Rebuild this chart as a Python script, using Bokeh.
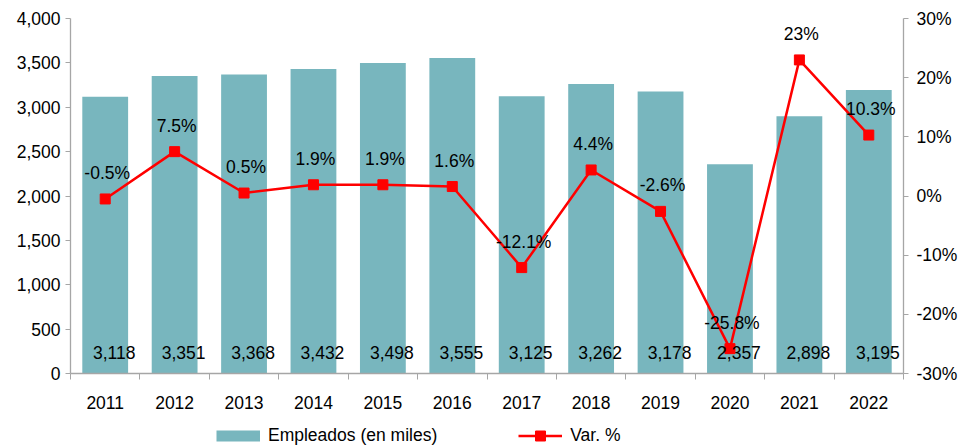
from bokeh.plotting import figure
from bokeh.layouts import column
from bokeh.models import (Range1d, LinearAxis, FixedTicker, NumeralTickFormatter,
                          ColumnDataSource, Legend, LegendItem, CustomJSTickFormatter)
from bokeh.core.properties import value
from bokeh.embed import file_html
from bokeh.resources import INLINE

years = ["2011", "2012", "2013", "2014", "2015", "2016",
         "2017", "2018", "2019", "2020", "2021", "2022"]
empleados = [3118, 3351, 3368, 3432, 3498, 3555, 3125, 3262, 3178, 2357, 2898, 3195]
var_pct = [-0.5, 7.5, 0.5, 1.9, 1.9, 1.6, -12.1, 4.4, -2.6, -25.8, 23, 10.3]
left_ticks = [0, 500, 1000, 1500, 2000, 2500, 3000, 3500, 4000]
right_ticks = [-30, -20, -10, 0, 10, 20, 30]
series_names = ["Empleados (en miles)", "Var. %"]

FONT = "Liberation Sans"
FS = "17.5px"
BAR = "#78B6BE"
RED = "#FF0000"
AX = "#A6A6A6"

n = len(years)
xs = [i + 0.5 for i in range(n)]
src = ColumnDataSource(dict(
    x=xs, emp=empleados, pct=var_pct,
    emp_lab=[f"{v:,}" for v in empleados],
    pct_lab=[f"{v:g}%" for v in var_pct],
))

p = figure(width=960, height=420, x_range=Range1d(0, n), y_range=Range1d(0, 4000),
           output_backend="svg", toolbar_location=None,
           min_border_left=70, min_border_right=55, min_border_top=18, min_border_bottom=47)
p.extra_y_ranges = {"pct": Range1d(-30, 30)}
p.grid.visible = False
p.outline_line_color = None

p.vbar(x="x", top="emp", width=0.66, source=src, fill_color=BAR, line_color=None)
p.line(x="x", y="pct", source=src, y_range_name="pct", line_color=RED, line_width=2.5)
p.scatter(x="x", y="pct", source=src, y_range_name="pct", marker="square", size=10,
          fill_color=RED, line_color=RED)

p.text(x="x", y=0, text="emp_lab", source=src, x_offset=9, y_offset=-21,
       text_align="center", text_baseline="middle", text_font=value(FONT),
       text_font_size=FS, text_color="black")
p.text(x="x", y="pct", text="pct_lab", source=src, y_range_name="pct", x_offset=2, y_offset=-26,
       text_align="center", text_baseline="middle", text_font=value(FONT),
       text_font_size=FS, text_color="black")

# x axis: ticks at category boundaries, labels at centres
xa = p.xaxis[0]
xa.ticker = FixedTicker(ticks=xs, minor_ticks=list(range(n + 1)))
xa.formatter = CustomJSTickFormatter(args=dict(years=years),
                                     code="return years[Math.floor(tick)] || '';")
xa.major_tick_line_color = None
xa.major_tick_out = 0
xa.major_tick_in = 0
xa.minor_tick_out = 6
xa.minor_tick_in = 0
xa.minor_tick_line_color = AX
xa.axis_line_color = AX
xa.axis_line_width = 1.3
xa.major_label_standoff = 16
xa.major_label_text_font = FONT
xa.major_label_text_font_size = FS
xa.major_label_text_color = "black"

ya = p.yaxis[0]
ya.ticker = FixedTicker(ticks=left_ticks)
ya.formatter = NumeralTickFormatter(format="0,0")
ya.major_tick_out = 5
ya.major_tick_in = 0
ya.minor_tick_line_color = None
ya.axis_line_color = AX
ya.axis_line_width = 1.3
ya.major_tick_line_color = AX
ya.major_label_standoff = 5
ya.major_label_text_font = FONT
ya.major_label_text_font_size = FS
ya.major_label_text_color = "black"

ra = LinearAxis(y_range_name="pct", ticker=FixedTicker(ticks=right_ticks),
                formatter=CustomJSTickFormatter(code="return tick + '%';"))
ra.major_tick_out = 5
ra.major_tick_in = 0
ra.minor_tick_line_color = None
ra.axis_line_color = AX
ra.axis_line_width = 1.3
ra.major_tick_line_color = AX
ra.major_label_standoff = 8
ra.major_label_text_font = FONT
ra.major_label_text_font_size = FS
ra.major_label_text_color = "black"
p.add_layout(ra, "right")

# legend strip below the chart (dummy renderers sit outside the visible range)
lg = figure(width=960, height=28, x_range=Range1d(0, 1), y_range=Range1d(0, 1),
            output_backend="svg", toolbar_location=None, x_axis_type=None, y_axis_type=None,
            min_border=0, min_border_left=0, min_border_right=0, min_border_top=0,
            min_border_bottom=0)
lg.grid.visible = False
lg.outline_line_color = None
off = dict(x=[-5, -6], y=[-5, -6])
r_bar = lg.line(x=off["x"], y=off["y"], line_color=BAR, line_width=11, line_cap="butt")
r_ln = lg.line(x=off["x"], y=off["y"], line_color=RED, line_width=2.5)
r_sc = lg.scatter(x=off["x"], y=off["y"], marker="square", fill_color=RED, line_color=RED)
legend = Legend(items=[LegendItem(label=series_names[0], renderers=[r_bar]),
                       LegendItem(label=series_names[1], renderers=[r_ln, r_sc])],
                orientation="horizontal", location=(146, 0),
                border_line_color=None, background_fill_alpha=0,
                label_text_font=FONT, label_text_font_size=FS,
                label_text_color="black", label_height=18,
                glyph_width=44, glyph_height=25, spacing=81, padding=0, margin=0,
                label_standoff=8)
lg.add_layout(legend, "center")

layout = column(p, lg, spacing=0)
open("out.html", "w").write(file_html(layout, INLINE))
